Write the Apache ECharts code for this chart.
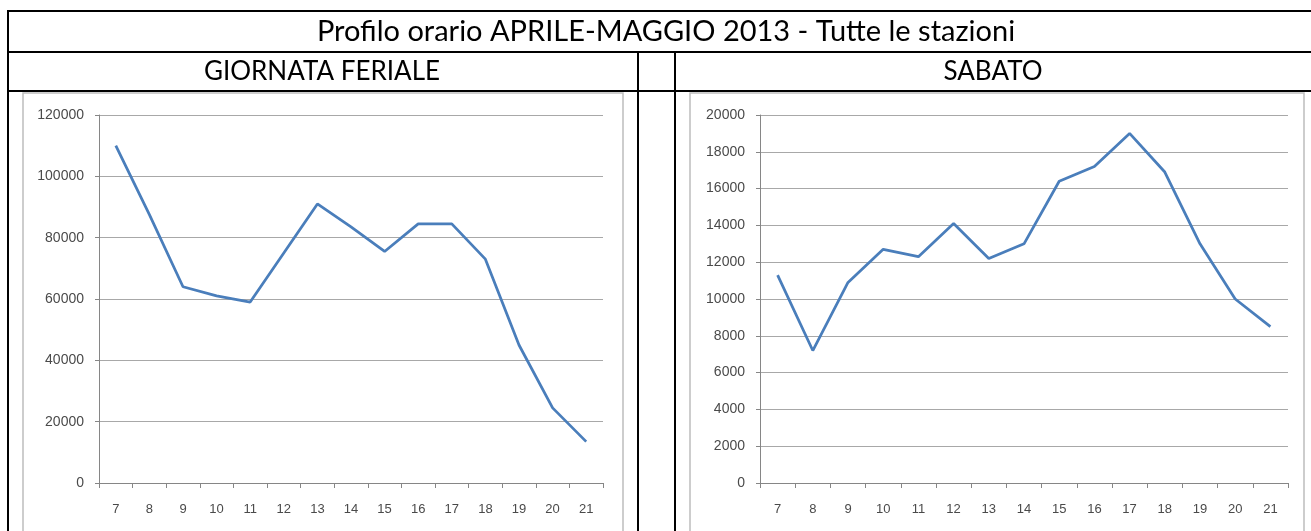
<!DOCTYPE html>
<html>
<head>
<meta charset="utf-8">
<script src="https://cdn.jsdelivr.net/npm/echarts@6/dist/echarts.min.js"></script>
<style>
  html, body { margin: 0; padding: 0; background: #fff; }
  #chart { width: 1311px; height: 531px; }
</style>
</head>
<body>
<div id="chart"></div>
<script>
var ore = ['7', '8', '9', '10', '11', '12', '13', '14', '15', '16', '17', '18', '19', '20', '21'];
var feriale = [110000, 87500, 64000, 61000, 59000, 75000, 91000, 83500, 75500, 84500, 84500, 73000, 45000, 24500, 13500];
var sabato = [11300, 7200, 10900, 12700, 12300, 14100, 12200, 13000, 16400, 17200, 19000, 16900, 13000, 10000, 8500];

var titolo = 'Profilo orario APRILE-MAGGIO 2013 - Tutte le stazioni';
var intestazioni = ['GIORNATA FERIALE', 'SABATO'];

var lineColor = '#4a7ebb';
var axisColor = '#868686';
var labelColor = '#4a4a4a';

function hline(y, x1, x2) {
    return { type: 'line', shape: { x1: x1, y1: y, x2: x2, y2: y }, style: { stroke: '#000', lineWidth: 2 }, z: 10 };
}
function vline(x, y1, y2) {
    return { type: 'line', shape: { x1: x, y1: y1, x2: x, y2: y2 }, style: { stroke: '#000', lineWidth: 2 }, z: 10 };
}
function cella(text, x, y, size) {
    return {
        type: 'text', x: x, y: y,
        style: { text: text, align: 'center', verticalAlign: 'middle', fontFamily: 'Lato', fontSize: size, fill: '#000' }
    };
}
function asseX(gridIndex) {
    return {
        type: 'category', gridIndex: gridIndex, data: ore, boundaryGap: true,
        axisLine: { lineStyle: { color: axisColor, width: 1 } },
        axisTick: { show: true, length: 5, lineStyle: { color: axisColor } },
        axisLabel: { color: labelColor, fontFamily: 'Liberation Sans', fontSize: 13, margin: 20 },
        splitLine: { show: false }
    };
}
function asseY(gridIndex, max, interval) {
    return {
        type: 'value', gridIndex: gridIndex, min: 0, max: max, interval: interval,
        axisLine: { show: true, lineStyle: { color: axisColor, width: 1 } },
        axisTick: { show: true, length: 4, lineStyle: { color: axisColor } },
        axisLabel: { color: labelColor, fontFamily: 'Liberation Sans', fontSize: 14, margin: 15,
                     formatter: function (v) { return String(v); } },
        splitLine: { lineStyle: { color: '#a8a8a8', width: 1 } }
    };
}

var dom = document.getElementById('chart');
var myChart = echarts.init(dom, null, { renderer: 'canvas' });

var option = {
    animation: false,
    backgroundColor: '#fff',
    grid: [
        { left: 99, top: 115, width: 504, height: 368 },
        { left: 760, top: 115, width: 528, height: 368 }
    ],
    xAxis: [asseX(0), asseX(1)],
    yAxis: [asseY(0, 120000, 20000), asseY(1, 20000, 2000)],
    series: [
        { type: 'line', xAxisIndex: 0, yAxisIndex: 0, data: feriale, symbol: 'none',
          lineStyle: { color: lineColor, width: 2.75 } },
        { type: 'line', xAxisIndex: 1, yAxisIndex: 1, data: sabato, symbol: 'none',
          lineStyle: { color: lineColor, width: 2.75 } }
    ],
    graphic: [
        // cornici dei grafici
        { type: 'rect', shape: { x: 23, y: 93, width: 600, height: 460 }, style: { fill: null, stroke: '#bdbdbd', lineWidth: 1.5 } },
        { type: 'rect', shape: { x: 690, y: 93, width: 614, height: 460 }, style: { fill: null, stroke: '#bdbdbd', lineWidth: 1.5 } },
        // bordi tabella
        hline(11, 7, 1311),
        hline(52, 7, 1311),
        hline(91, 7, 1311),
        vline(8, 10, 531),
        vline(638, 52, 531),
        vline(675, 52, 531),
        cella(titolo, 666, 32, 29),
        cella(intestazioni[0], 322, 72, 26),
        cella(intestazioni[1], 993, 72, 26)
    ]
};

myChart.setOption(option);
window.addEventListener('resize', myChart.resize);
</script>
</body>
</html>
